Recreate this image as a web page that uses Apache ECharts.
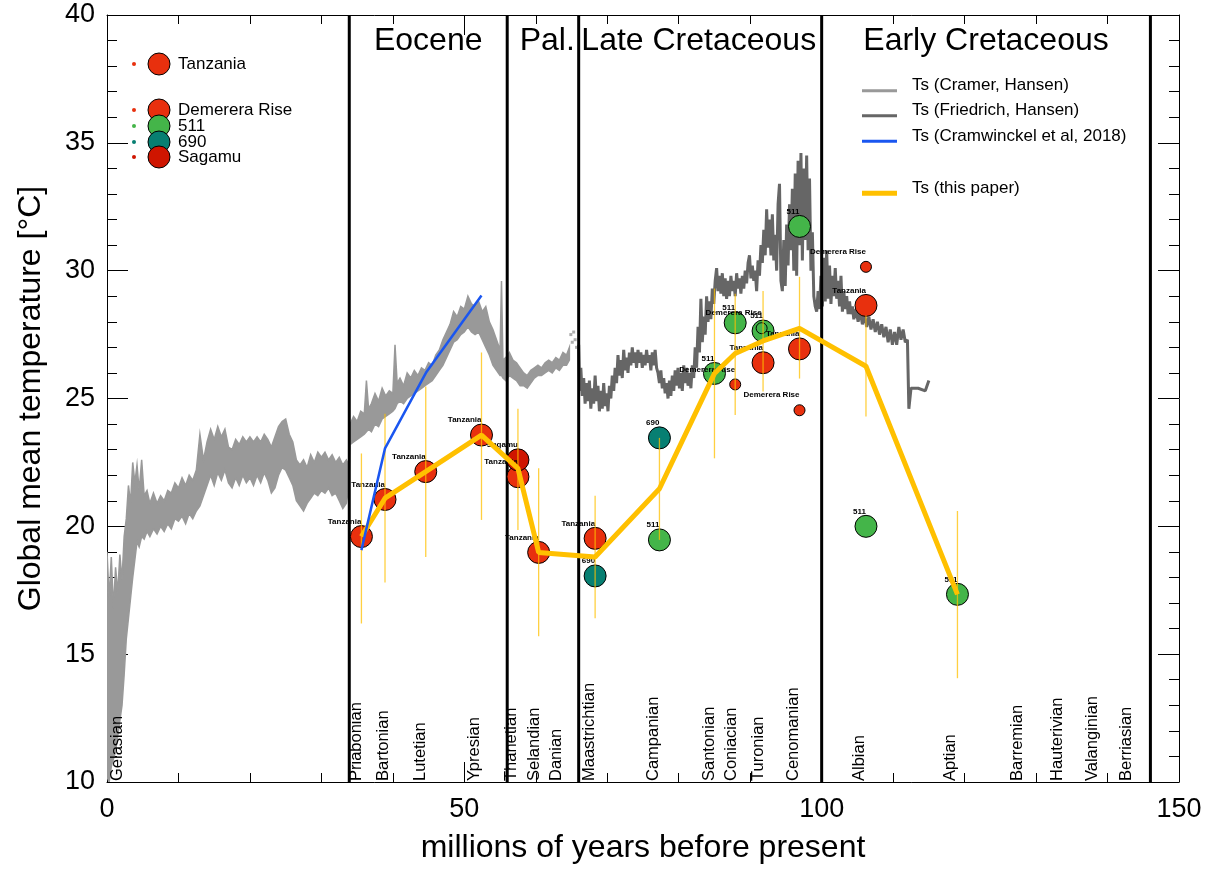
<!DOCTYPE html>
<html>
<head>
<meta charset="utf-8">
<script src="https://cdn.jsdelivr.net/npm/echarts@6/dist/echarts.min.js"></script>
<style>
  html, body { margin: 0; padding: 0; background: #fff; }
  #chart { width: 1229px; height: 869px; }
</style>
</head>
<body>
<div id="chart"></div>
<script>
// --- Cramer (Hansen) band: age, upper edge, lower edge ---
var cramerAge = [0, 0.3, 0.6, 0.9, 1.2, 1.5, 1.8, 2.1, 2.4, 2.7, 3.0, 3.3, 3.6, 3.9, 4.2, 4.5, 4.85, 5.2, 5.6, 6.0, 6.5, 7.0, 7.5, 8.0, 8.5, 9.0, 9.5, 10.0, 10.5, 11.0, 11.5, 12.0, 12.5, 13.0, 13.5, 14.0, 14.5, 15.0, 15.5, 16.0, 16.5, 17.0, 17.5, 18.0, 18.5, 19.0, 19.5, 20.0, 20.5, 21.0, 21.5, 22.0, 22.5, 23.0, 23.5, 24.0, 24.5, 25.0, 25.5, 26.0, 26.5, 27.0, 27.5, 28.0, 28.5, 29.0, 29.5, 30.0, 30.5, 31.0, 31.5, 32.0, 32.5, 33.0, 33.5, 33.85, 34.0, 34.5, 35.0, 35.5, 36.0, 36.3, 36.6, 37.0, 37.5, 38.0, 38.5, 39.0, 39.5, 40.0, 40.3, 40.6, 41.0, 41.5, 42.0, 42.5, 43.0, 43.5, 44.0, 44.5, 45.0, 45.5, 46.0, 46.5, 47.0, 47.5, 48.0, 48.5, 49.0, 49.5, 50.0, 50.5, 51.0, 51.5, 52.0, 52.5, 53.0, 53.5, 54.0, 54.5, 55.0, 55.2, 55.4, 55.8, 56.3, 56.8, 57.3, 57.8, 58.3, 58.8, 59.3, 59.8, 60.3, 60.8, 61.3, 61.8, 62.3, 62.8, 63.3, 63.8, 64.3, 64.7];
var cramerTop = [19.0, 17.2, 18.8, 16.8, 18.4, 17.4, 18.9, 17.9, 19.6, 20.3, 21.6, 20.9, 22.5, 21.7, 22.4, 21.4, 22.6, 21.2, 21.4, 20.9, 21.3, 20.9, 21.2, 21.0, 21.4, 21.3, 21.7, 21.5, 21.9, 21.6, 22.0, 21.8, 22.2, 23.6, 22.6, 23.3, 23.8, 23.4, 23.9, 23.5, 23.8, 23.1, 23.0, 23.4, 23.2, 23.5, 23.3, 23.5, 23.3, 23.5, 23.3, 23.6, 23.4, 23.1, 23.5, 23.9, 24.1, 24.2, 23.6, 23.3, 22.6, 22.4, 22.6, 22.3, 22.8, 22.5, 22.9, 22.7, 22.9, 22.6, 22.8, 22.5, 22.7, 22.4, 22.6, 22.4, 24.0, 24.3, 24.1, 24.5, 24.4, 25.7, 24.6, 24.8, 25.2, 24.9, 25.4, 25.1, 25.3, 25.2, 27.1, 25.6, 25.8, 25.5, 26.0, 25.8, 26.1, 25.9, 26.2, 26.1, 26.4, 26.3, 26.7, 26.9, 27.3, 27.6, 27.9, 28.4, 28.2, 28.6, 28.5, 29.0, 28.7, 28.6, 28.8, 28.4, 28.6, 28.0, 27.7, 27.3, 26.9, 29.6, 26.5, 26.6, 26.8, 26.5, 26.4, 26.2, 26.0, 25.9, 26.1, 26.2, 26.3, 26.2, 26.4, 26.5, 26.4, 26.6, 26.5, 26.8, 26.7, 27.0];
var cramerBot = [10.2, 10.0, 10.6, 10.9, 11.2, 11.8, 12.4, 13.0, 14.2, 15.6, 16.4, 17.2, 18.0, 18.7, 19.4, 19.2, 19.6, 19.5, 19.8, 19.6, 19.9, 19.7, 20.0, 19.8, 20.1, 19.9, 20.3, 20.2, 20.4, 20.1, 20.5, 20.3, 20.6, 20.8, 21.2, 21.6, 22.0, 21.6, 22.1, 21.8, 22.2, 21.7, 21.5, 21.9, 21.6, 22.0, 21.7, 21.9, 21.6, 22.0, 21.7, 22.1, 21.8, 21.3, 21.5, 22.0, 22.3, 22.2, 21.9, 21.6, 21.0, 20.8, 20.6, 20.9, 21.1, 21.3, 21.2, 21.4, 21.3, 21.5, 21.2, 21.3, 21.0, 20.7, 20.9, 21.6, 23.2, 23.3, 23.4, 23.5, 23.6, 23.7, 23.8, 23.7, 24.0, 23.9, 24.2, 24.3, 24.4, 24.5, 24.6, 24.8, 24.9, 24.8, 25.0, 25.1, 25.2, 25.3, 25.4, 25.5, 25.6, 25.7, 25.9, 26.1, 26.3, 26.6, 26.9, 27.2, 27.3, 27.5, 27.6, 27.8, 27.6, 27.5, 27.6, 27.3, 27.0, 26.7, 26.3, 26.1, 25.9, 25.9, 25.8, 25.7, 25.9, 25.8, 25.7, 25.5, 25.5, 25.4, 25.6, 25.8, 25.9, 25.9, 26.0, 26.1, 26.0, 26.2, 26.1, 26.3, 26.3, 26.5];
var cramerDots = [[64.9, 27.5], [65.1, 27.2], [65.3, 27.6], [65.5, 27.3], [65.7, 27.0]];

// --- Friedrich (Hansen) curve ---
var friedrich = [
  [66.0, 27.1], [66.15, 25.3], [66.3, 26.2], [66.5, 25.1], [66.7, 25.8], [66.9, 24.8], [67.1, 25.6], [67.3, 24.9],
  [67.5, 25.7], [67.7, 24.6], [67.9, 25.4], [68.1, 24.8], [68.3, 25.9], [68.5, 24.9], [68.7, 25.5], [68.9, 24.5],
  [69.1, 25.3], [69.3, 24.6], [69.5, 25.6], [69.7, 24.7], [69.9, 25.2], [70.1, 24.5], [70.3, 25.5], [70.5, 25.0],
  [70.7, 25.9], [70.9, 25.3], [71.1, 26.2], [71.3, 25.6], [71.5, 26.7], [71.7, 25.9], [71.9, 26.5], [72.1, 25.8],
  [72.3, 26.9], [72.5, 26.1], [72.7, 26.6], [72.9, 26.0], [73.1, 26.8], [73.3, 26.3], [73.5, 27.0], [73.7, 26.4],
  [73.9, 26.8], [74.1, 26.2], [74.3, 26.9], [74.5, 26.4], [74.7, 26.8], [74.9, 26.2], [75.1, 26.7], [75.3, 26.3],
  [75.5, 26.9], [75.7, 26.4], [75.9, 26.7], [76.1, 26.1], [76.3, 26.8], [76.5, 26.3], [76.7, 26.9], [76.9, 26.2],
  [77.1, 26.0], [77.3, 25.6], [77.5, 26.1], [77.7, 25.4], [77.9, 25.8], [78.1, 25.2], [78.3, 25.6], [78.5, 25.0],
  [78.7, 25.7], [78.9, 25.1], [79.1, 25.9], [79.3, 25.3], [79.5, 26.1], [79.7, 25.5], [79.9, 26.2], [80.1, 25.4],
  [80.3, 26.0], [80.5, 25.3], [80.7, 26.3], [80.9, 25.6], [81.1, 26.2], [81.3, 25.5], [81.5, 26.0], [81.7, 25.4],
  [81.9, 26.3], [82.1, 25.8], [82.3, 27.0], [82.5, 26.2], [82.7, 27.8], [82.9, 26.8], [83.1, 28.9], [83.3, 27.2],
  [83.5, 28.2], [83.7, 27.5], [83.9, 29.0], [84.1, 28.0], [84.3, 28.8], [84.5, 28.1], [84.7, 29.3], [84.9, 28.7],
  [85.1, 29.6], [85.3, 30.1], [85.5, 29.2], [85.7, 29.8], [85.9, 29.1], [86.1, 29.9], [86.3, 29.0], [86.5, 29.7],
  [86.7, 28.9], [86.9, 29.6], [87.1, 29.0], [87.3, 29.8], [87.5, 29.2], [87.7, 29.6], [87.9, 29.0], [88.1, 29.9],
  [88.3, 29.3], [88.5, 29.7], [88.7, 29.1], [88.9, 29.8], [89.1, 29.3], [89.3, 30.0], [89.5, 29.5], [89.7, 30.3],
  [89.9, 30.6], [90.1, 29.7], [90.3, 30.2], [90.5, 29.6], [90.7, 30.0], [90.9, 29.2], [91.1, 30.4], [91.3, 29.8],
  [91.5, 31.0], [91.7, 30.3], [91.9, 31.6], [92.1, 30.6], [92.3, 32.4], [92.5, 30.9], [92.7, 32.0], [92.9, 30.6],
  [93.1, 32.2], [93.3, 30.4], [93.5, 31.4], [93.7, 30.0], [93.9, 32.6], [94.1, 33.4], [94.3, 29.6], [94.5, 29.2],
  [94.7, 31.2], [94.9, 29.4], [95.1, 31.8], [95.3, 30.2], [95.5, 32.6], [95.7, 30.8], [95.9, 33.2], [96.1, 30.0],
  [96.3, 33.8], [96.5, 29.8], [96.7, 34.3], [96.9, 31.0], [97.1, 34.6], [97.3, 30.4], [97.5, 34.0], [97.7, 31.2],
  [97.9, 34.5], [98.1, 30.8], [98.3, 33.6], [98.5, 30.0], [98.7, 31.5], [98.9, 29.0], [99.1, 28.6], [99.3, 28.4],
  [99.5, 29.2], [99.7, 28.5], [99.9, 29.8], [100.1, 28.6], [100.3, 30.5], [100.5, 28.8], [100.7, 30.8], [100.9, 28.9],
  [101.1, 30.2], [101.3, 28.7], [101.5, 29.8], [101.7, 29.0], [101.9, 30.1], [102.1, 28.9], [102.3, 29.6], [102.5, 28.6],
  [102.7, 29.8], [102.9, 28.4], [103.1, 29.2], [103.3, 28.5], [103.5, 29.0], [103.7, 28.3], [103.9, 28.8], [104.1, 28.3],
  [104.3, 28.6], [104.5, 28.1], [104.8, 28.5], [105.1, 28.0], [105.4, 28.4], [105.7, 27.9], [106.0, 28.3], [106.3, 27.8],
  [106.6, 28.2], [106.9, 27.7], [107.2, 28.1], [107.5, 27.6], [107.8, 28.0], [108.1, 27.5], [108.4, 27.9], [108.7, 27.4],
  [109.0, 27.8], [109.3, 27.2], [109.6, 27.7], [109.9, 27.1], [110.2, 27.6], [110.5, 27.1], [110.8, 27.8], [111.1, 27.3],
  [111.4, 27.7], [111.7, 27.2], [112.0, 27.3], [112.2, 24.6], [112.5, 25.4], [113.5, 25.4], [114.5, 25.3], [115.0, 25.7]
];

// --- Cramwinckel et al. 2018 ---
var cramwinckel = [[35.6, 19.07], [38.9, 23.05], [44.7, 26.04], [52.4, 29.03]];

// --- this paper: stage means and uncertainty ---
var paperAge = [35.6, 38.9, 44.6, 52.4, 57.5, 60.4, 68.3, 77.3, 85.0, 87.9, 91.8, 96.9, 106.2, 119.0];
var paperT   = [19.6, 21.1, 22.14, 23.57, 22.27, 18.98, 18.8, 21.47, 25.98, 26.76, 27.25, 27.74, 26.26, 17.34];
var paperLo  = [16.2, 17.8, 18.8, 20.25, 19.86, 15.7, 16.4, 19.47, 22.66, 24.35, 25.27, 25.78, 24.3, 14.06];
var paperHi  = [22.85, 24.4, 25.47, 26.8, 24.6, 22.27, 21.2, 23.46, 29.3, 29.1, 29.2, 29.76, 28.25, 20.6];

// --- proxy sites ---
var tanzania = [[35.6, 19.6], [38.9, 21.05], [44.6, 22.14], [52.4, 23.57], [57.5, 21.94], [60.4, 18.98], [68.3, 19.53], [91.8, 26.4], [96.9, 26.94], [106.2, 28.64]];
var sagamu   = [[57.5, 22.6]];
var site511  = [[77.3, 19.47], [85.0, 25.98], [87.9, 27.96], [91.8, 27.64], [96.9, 31.73], [106.2, 20.0], [119.0, 17.34]];
var site690  = [[68.3, 18.06], [77.3, 23.46]];
var demerera = [[87.9, 25.55], [91.6, 27.75], [96.9, 24.54], [106.2, 30.15]];

// --- stages / epochs ---
var stageNames = ["Gelasian", "Priabonian", "Bartonian", "Lutetian", "Ypresian", "Thanetian", "Selandian", "Danian", "Maastrichtian", "Campanian", "Santonian", "Coniacian", "Turonian", "Cenomanian", "Albian", "Aptian", "Barremian", "Hauterivian", "Valanginian", "Berriasian"];
var stageMid   = [2.2, 35.7, 39.5, 44.6, 52.2, 57.3, 60.6, 63.7, 68.3, 77.2, 85.1, 88.1, 91.9, 96.8, 106.1, 118.8, 128.1, 133.8, 138.6, 143.4];
var epochNames = ["Eocene", "Pal.", "Late Cretaceous", "Early Cretaceous"];
var epochMid   = [44.95, 61.6, 82.8, 123.0];
var boundaries = [33.9, 56, 66, 100, 146];

var RED = '#e8300e', GREEN = '#44b549', TEAL = '#077f72', DKRED = '#cf1500';
var FONT = '"Liberation Sans", Arial, Helvetica, sans-serif';

var myChart = echarts.init(document.getElementById('chart'));

function siteSeries(name, data, color, size, z) {
  return {
    name: name,
    type: 'scatter',
    data: data,
    z: z,
    symbol: 'circle',
    symbolSize: size,
    itemStyle: { color: color, borderColor: '#000', borderWidth: 1, opacity: 1 },
    label: {
      show: true,
      position: 'inside',
      align: 'right',
      verticalAlign: 'middle',
      offset: [0, -15],
      formatter: name,
      color: '#000',
      fontSize: 8,
      fontWeight: 'bold',
      fontFamily: FONT,
      textBorderWidth: 0
    },
    emphasis: { disabled: true }
  };
}

var axisFont = { color: '#000', fontSize: 27, fontFamily: FONT };

var option = {
  animation: false,
  backgroundColor: '#fff',
  grid: { left: 107, right: 50, top: 15, bottom: 86 },
  xAxis: [{
    type: 'value', min: 0, max: 150, interval: 50,
    name: 'millions of years before present', nameLocation: 'middle', nameGap: 50,
    nameTextStyle: { color: '#000', fontSize: 32, fontFamily: FONT },
    axisLine: { show: true, onZero: false, lineStyle: { color: '#000', width: 1 } },
    axisTick: { show: true, inside: true, length: 20, lineStyle: { color: '#000' } },
    minorTick: { show: true, splitNumber: 5, length: 9, lineStyle: { color: '#000' } },
    axisLabel: Object.assign({ margin: 14 }, axisFont),
    splitLine: { show: false }
  }, {
    type: 'value', min: 0, max: 150, interval: 50, position: 'top',
    axisLine: { show: true, onZero: false, lineStyle: { color: '#000', width: 1 } },
    axisTick: { show: true, inside: true, length: 20, lineStyle: { color: '#000' } },
    minorTick: { show: true, splitNumber: 5, length: 9, lineStyle: { color: '#000' } },
    axisLabel: { show: false },
    splitLine: { show: false }
  }],
  yAxis: [{
    type: 'value', min: 10, max: 40, interval: 5,
    name: 'Global mean temperature [°C]', nameLocation: 'middle', nameGap: 60,
    nameTextStyle: { color: '#000', fontSize: 32, fontFamily: FONT },
    axisLine: { show: true, onZero: false, lineStyle: { color: '#000', width: 1 } },
    axisTick: { show: true, inside: true, length: 21, lineStyle: { color: '#000' } },
    minorTick: { show: true, splitNumber: 5, length: 10, lineStyle: { color: '#000' } },
    axisLabel: Object.assign({ margin: 12 }, axisFont),
    splitLine: { show: false }
  }, {
    type: 'value', min: 10, max: 40, interval: 5, position: 'right',
    axisLine: { show: true, onZero: false, lineStyle: { color: '#000', width: 1 } },
    axisTick: { show: true, inside: true, length: 21, lineStyle: { color: '#000' } },
    minorTick: { show: true, splitNumber: 5, length: 10, lineStyle: { color: '#000' } },
    axisLabel: { show: false },
    splitLine: { show: false }
  }],
  series: [
    {
      // Cramer band as a filled polygon between upper and lower edges
      name: 'Ts (Cramer, Hansen)',
      type: 'custom',
      z: 1,
      clip: true,
      data: [[0, 10]],
      renderItem: function (params, api) {
        var pts = [];
        for (var i = 0; i < cramerAge.length; i++) pts.push(api.coord([cramerAge[i], cramerTop[i]]));
        for (var j = cramerAge.length - 1; j >= 0; j--) pts.push(api.coord([cramerAge[j], cramerBot[j]]));
        return {
          type: 'polygon',
          shape: { points: pts },
          style: { fill: '#999999', stroke: '#999999', lineWidth: 1.5 }
        };
      }
    },
    {
      type: 'scatter', z: 1, data: cramerDots, symbol: 'rect', symbolSize: 3,
      itemStyle: { color: '#999999' }, emphasis: { disabled: true }
    },
    {
      name: 'Ts (Friedrich, Hansen)',
      type: 'line', z: 1, data: friedrich, showSymbol: false, symbol: 'none',
      lineStyle: { color: '#666666', width: 3 }
    },
    {
      // epoch boundaries
      type: 'custom', z: 2,
      data: boundaries.map(function (b) { return [b, 10]; }),
      renderItem: function (params, api) {
        var a = api.coord([api.value(0), 10]);
        var b = api.coord([api.value(0), 40]);
        return { type: 'line', shape: { x1: a[0], y1: a[1], x2: b[0], y2: b[1] }, style: { stroke: '#000', lineWidth: 3 } };
      }
    },
    siteSeries('Tanzania', tanzania, RED, 22, 3),
    siteSeries('Sagamu', sagamu, DKRED, 22, 3),
    siteSeries('690', site690, TEAL, 22, 3),
    siteSeries('511', site511, GREEN, 22, 3),
    (function () {
      var s = siteSeries('Demerera Rise', demerera.map(function (d) {
        // the Turonian small marker sits inside the 511 circle and shows green
        return d[0] === 91.6 ? { value: d, itemStyle: { color: GREEN } } : d;
      }), RED, 11, 3);
      return s;
    })(),
    {
      // error bars
      type: 'custom', z: 4,
      data: paperAge.map(function (a, i) { return [a, paperLo[i], paperHi[i]]; }),
      encode: { x: 0, y: [1, 2] },
      renderItem: function (params, api) {
        var a = api.coord([api.value(0), api.value(1)]);
        var b = api.coord([api.value(0), api.value(2)]);
        return { type: 'line', shape: { x1: a[0], y1: a[1], x2: b[0], y2: b[1] }, style: { stroke: 'rgba(255,192,0,0.75)', lineWidth: 1.3 } };
      }
    },
    {
      name: 'Ts (this paper)',
      type: 'line', z: 5,
      data: paperAge.map(function (a, i) { return [a, paperT[i]]; }),
      showSymbol: false, symbol: 'none',
      lineStyle: { color: '#ffc000', width: 5 }
    },
    {
      name: 'Ts (Cramwinckel et al, 2018)',
      type: 'line', z: 6, data: cramwinckel, showSymbol: false, symbol: 'none',
      lineStyle: { color: '#1a56f0', width: 2.5 }
    },
    {
      // stage names along the bottom
      type: 'custom', z: 7,
      data: stageMid.map(function (m) { return [m, 10]; }),
      renderItem: function (params, api) {
        var p = api.coord([api.value(0), api.value(1)]);
        return {
          type: 'text', x: p[0] + 3, y: p[1] - 1, rotation: Math.PI / 2,
          style: { text: stageNames[params.dataIndex], x: 0, y: 0, align: 'left', verticalAlign: 'bottom', fill: '#000', font: '16.5px ' + FONT }
        };
      }
    },
    {
      // epoch titles
      type: 'custom', z: 7,
      data: epochMid.map(function (m) { return [m, 38.98]; }),
      renderItem: function (params, api) {
        var p = api.coord([api.value(0), api.value(1)]);
        return {
          type: 'text', x: p[0], y: p[1],
          style: { text: epochNames[params.dataIndex], x: 0, y: 0, align: 'center', verticalAlign: 'middle', fill: '#000', font: '32px ' + FONT }
        };
      }
    }
  ],
  graphic: []
};

// site legend (top left)
var siteLegend = [
  { name: 'Tanzania', y: 64, color: RED },
  { name: 'Demerera Rise', y: 110, color: RED },
  { name: '511', y: 126, color: GREEN },
  { name: '690', y: 142, color: TEAL },
  { name: 'Sagamu', y: 157, color: DKRED }
];
siteLegend.forEach(function (s) {
  option.graphic.push({ type: 'circle', shape: { cx: 134, cy: s.y, r: 2 }, style: { fill: s.color }, z: 10 });
  option.graphic.push({ type: 'circle', shape: { cx: 159, cy: s.y, r: 11 }, style: { fill: s.color, stroke: '#000', lineWidth: 1 }, z: 10 });
  option.graphic.push({ type: 'text', x: 178, y: s.y, style: { text: s.name, fill: '#000', font: '17px ' + FONT, verticalAlign: 'middle' }, z: 10 });
});

// curve legend (top right)
var lineLegend = [
  { name: 'Ts (Cramer, Hansen)', y: 90.7, color: '#999999', w: 3 },
  { name: 'Ts (Friedrich, Hansen)', y: 115.7, color: '#666666', w: 3 },
  { name: 'Ts (Cramwinckel et al, 2018)', y: 141.3, color: '#1a56f0', w: 3 },
  { name: 'Ts (this paper)', y: 193.3, color: '#ffc000', w: 5 }
];
lineLegend.forEach(function (l) {
  option.graphic.push({ type: 'line', shape: { x1: 862, y1: l.y, x2: 897, y2: l.y }, style: { stroke: l.color, lineWidth: l.w }, z: 10 });
  option.graphic.push({ type: 'text', x: 912, y: l.y - 5, style: { text: l.name, fill: '#000', font: '17px ' + FONT, verticalAlign: 'middle' }, z: 10 });
});

myChart.setOption(option);
window.addEventListener('resize', function () {
  myChart.resize();
});
</script>
</body>
</html>
